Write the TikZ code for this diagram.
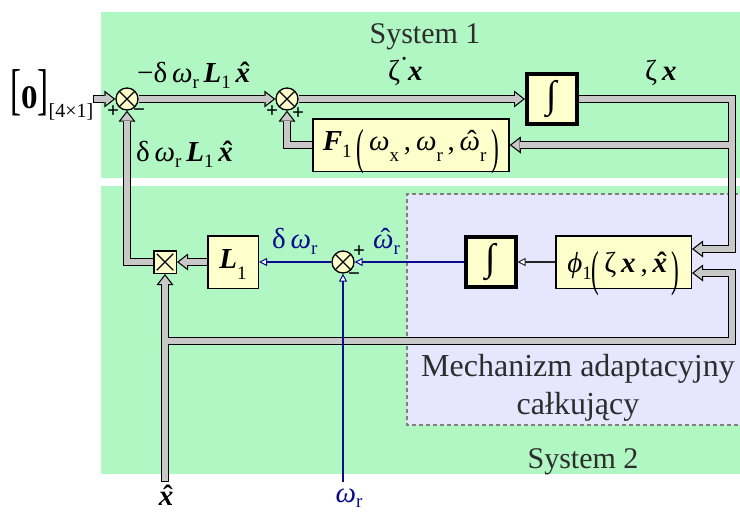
\documentclass[tikz,border=0pt]{standalone}
\usepackage{graphicx}
\usepackage{fontspec}
\setmainfont{Liberation Serif}
\usetikzlibrary{arrows.meta}
\definecolor{grn}{RGB}{176,247,196}
\definecolor{lav}{RGB}{230,230,255}
\definecolor{byel}{RGB}{255,255,204}
\definecolor{wg}{RGB}{200,200,200}
\definecolor{nv}{RGB}{10,10,140}
\definecolor{tg}{RGB}{45,45,45}
\definecolor{dashc}{RGB}{128,128,128}
\pgfdeclarelayer{bg}
\pgfdeclarelayer{wire}
\pgfsetlayers{bg,wire,main}
\newcommand\fs[1]{\fontsize{#1}{#1}\selectfont}
\newcommand\bx{\textbf{\textit{x}}}
\newcommand\bL{\textbf{\textit{L}}}
\newcommand\bF{\textbf{\textit{F}}}
\newcommand\om{\textit{ω}}
\newcommand\hatx{\ooalign{\bx\cr\hidewidth\kern0.14em\textbf{ˆ}\hidewidth\cr}}
\newcommand\hatom{\ooalign{\om\cr\hidewidth\kern0.14em ˆ\hidewidth\cr}}
\newcommand\lo[2]{\raisebox{-#1pt}{\fs{19}#2}}
\newcommand\tp[1]{\raisebox{-13pt}{\scalebox{0.8}[1.7]{\fontseries{l}\selectfont#1}}}
\newcommand\fatwires[3]{%
  \draw[#1,#2,#3] (zin) -- (s1.west);
  \draw[#1,#2] (s1.east) -- (s2.west);
  \draw[#1,#2] (s2.east) -- (i1.west);
  \draw[#1,#2] (i1.east) -- (tr) |- ([yshift=13pt]phi.east);
  \draw[#1,#2] (tr |- f1.east) -- (f1.east);
  \draw[#1,#2] (f1.west) -| (s2.south);
  \draw[#1,#2] (m.west) -| (s1.south);
  \draw[#1,#2] (l1.west) -- (m.east);
  \draw[#1,#2,#3] (xin) -- (m.south);
  \draw[#1,#2] (bl) -- (br) |- ([yshift=-11pt]phi.east);
}
\tikzset{
  blk/.style={draw=black, fill=byel, line width=1.5pt, inner sep=0pt},
  intbox/.style={blk, line width=4pt, minimum width=50pt, minimum height=50pt, font=\fs{38}\bfseries},
  sumj/.style={circle, draw=black, fill=byel, line width=1.3pt, minimum size=22pt, inner sep=0pt,
    path picture={\draw[line width=1.1pt] (path picture bounding box.north west) -- (path picture bounding box.south east)
      (path picture bounding box.north east) -- (path picture bounding box.south west);}},
  multbox/.style={draw=black, fill=byel, line width=1.5pt, minimum size=22.5pt, inner sep=0pt,
    path picture={\draw[line width=1.1pt] ([shift={(3pt,-3pt)}]path picture bounding box.north west) -- ([shift={(-3pt,3pt)}]path picture bounding box.south east)
      ([shift={(-3pt,-3pt)}]path picture bounding box.north east) -- ([shift={(3pt,3pt)}]path picture bounding box.south west);}},
  fo/.style={line width=8.5pt, draw=black, line join=miter},
  fi/.style={line width=6pt, draw=wg, line join=miter},
  ao/.style={-{Triangle[length=11pt,width=17pt,line width=0pt]}},
  ai/.style={-{Triangle[length=7.9pt,width=12.2pt,line width=0pt]}, shorten >=1.95pt},
  fstart/.style={shorten <=1.3pt},
  bluearr/.style={draw=nv, line width=1.3pt, -{Triangle[length=8pt,width=8pt,fill=white,line width=1pt]}},
  blackarr/.style={draw=black!85, line width=1.2pt, -{Triangle[length=8pt,width=8pt,fill=white,line width=1pt]}},
  lbl/.style={inner sep=0pt, font=\fs{29}},
  rt/.style={inner sep=0pt, font=\fs{30}, text=tg},
  sgn/.style={inner sep=0pt, font=\fs{21}\bfseries},
}
\begin{document}
\begin{tikzpicture}[x=1pt,y=-1pt]
\useasboundingbox (0,0) rectangle (740,515);
% regions
\begin{pgfonlayer}{bg}
  \fill[grn] (101,12) rectangle (740,178);
  \fill[grn] (101,186) rectangle (740,474);
  \fill[lav] (407,194) rectangle (745,425);
  \draw[dashc, line width=1.5pt, dash pattern=on 4pt off 3pt] (745,194) -- (407,194) -- (407,425) -- (745,425);
\end{pgfonlayer}
\node[rt, anchor=base] (sys1) at (425,43) {System 1};
\node[rt, anchor=base] (sys2) at (583,468) {System 2};
\node[rt, anchor=north, align=center, font=\fontsize{32}{38}\selectfont] (mech) at (578,354) {Mechanizm adaptacyjny\\całkujący};
% blocks
\node[sumj] (s1) at (127,99) {};
\node[sumj] (s2) at (287,99) {};
\node[sumj] (s3) at (343,262) {};
\node[intbox] (i1) at (552,99) {∫};
\node[intbox] (i2) at (490.5,262) {∫};
\node[blk, minimum width=196pt, minimum height=52.5pt, text height=22pt, text depth=12pt, font=\fs{29}] (f1) at (411,145)
  {\bF\lo{7}{1}\,\tp{(}\,\om\lo{11}{x}\,,\,\om\lo{11}{r}\,,\,\hatom\lo{11}{r}\,\tp{)}};
\node[blk, minimum width=135.5pt, minimum height=52.5pt, text height=22pt, text depth=2pt, font=\fs{29}] (phi) at (623.5,262)
  {\textit{ϕ}\lo{7}{1}\tp{(}\,ζ\,\bx\,,\,\hatx\,\tp{)}};
\node[blk, minimum width=50.5pt, minimum height=52.5pt, text height=20pt, text depth=8pt, font=\fs{29}] (l1) at (233,262)
  {\bL\lo{11}{1}};
\node[multbox] (m) at (165,262) {};
% labels
\node[lbl, anchor=base west] (zero) at (10,108)
  {\scalebox{1}[1.7]{\fs{33}[}{\fs{33}\textbf{0}}\scalebox{1}[1.7]{\fs{33}]}\raisebox{-9pt}{\fs{20}[4×1]}};
\node[lbl, anchor=base west] (lab1) at (137,82) {−δ\,\om\lo{6}{r}\,\bL\lo{6}{1}\,\hatx};
\node[lbl, anchor=base west] (lab2) at (136,161) {δ\,\om\lo{6}{r}\,\bL\lo{6}{1}\,\hatx};
\node[lbl, anchor=base west] (lab3) at (388,80) {ζ\hspace{4pt}\makebox[0pt]{\raisebox{4pt}{˙}}\hspace{4pt}\bx};
\node[lbl, anchor=base west] (lab4) at (645,80) {ζ\,\bx};
\node[lbl, anchor=base west, text=nv] (lab5) at (272,248) {δ\,\om\lo{6}{r}};
\node[lbl, anchor=base west, text=nv] (lab6) at (373,248) {\hatom\lo{6}{r}};
\node[lbl, anchor=base] (lab7) at (166,505) {\hatx};
\node[lbl, anchor=base, text=nv] (lab8) at (349,502) {\om\lo{5}{r}};
% signs
\node[sgn] (g1) at (113,112) {+};
\node[sgn] (g2) at (139,113) {−};
\node[sgn] (g3) at (272,112) {+};
\node[sgn] (g4) at (298,114) {+};
\node[sgn] (g5) at (359,252) {+};
\node[sgn] (g6) at (354,277) {−};
% coordinates
\coordinate (zin) at (93,99);
\coordinate (tr) at (732,99);
\coordinate (br) at (732,341);
\coordinate (bl) at (165,341);
\coordinate (xin) at (165,482);
\coordinate (win) at (343,482);
% wires
\begin{pgfonlayer}{wire}
  \fatwires{fo}{ao}{}
  \fatwires{fi}{ai}{fstart}
  \draw[blackarr] (phi.west) -- (i2.east);
  \draw[bluearr] (i2.west) -- (s3.east);
  \draw[bluearr] (s3.west) -- (l1.east);
  \draw[bluearr] (win) -- (s3.south);
\end{pgfonlayer}
\end{tikzpicture}
\end{document}
